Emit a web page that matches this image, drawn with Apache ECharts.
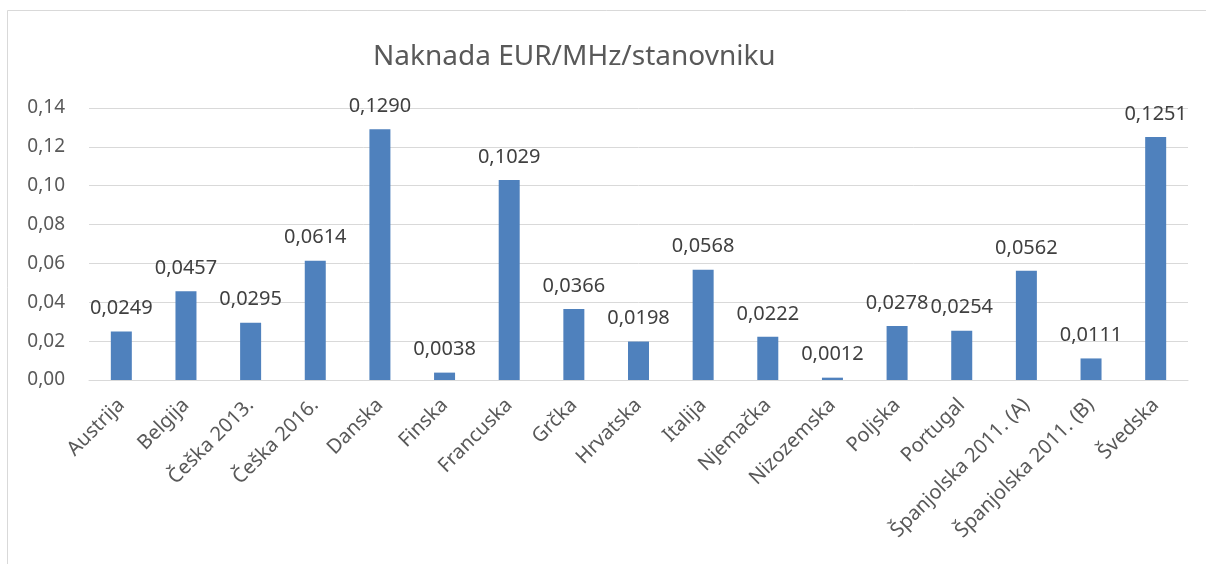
<!DOCTYPE html>
<html>
<head>
<meta charset="utf-8">
<script src="https://cdn.jsdelivr.net/npm/echarts@6/dist/echarts.min.js"></script>
<style>
  html, body { margin: 0; padding: 0; background: #fff; }
  #chart { width: 1206px; height: 564px; }
</style>
</head>
<body>
<div id="chart"></div>
<script>
const categories = [
  'Austrija', 'Belgija', 'Češka 2013.', 'Češka 2016.', 'Danska', 'Finska',
  'Francuska', 'Grčka', 'Hrvatska', 'Italija', 'Njemačka', 'Nizozemska',
  'Poljska', 'Portugal', 'Španjolska 2011. (A)', 'Španjolska 2011. (B)', 'Švedska'
];
const values = [
  0.0249, 0.0457, 0.0295, 0.0614, 0.1290, 0.0038,
  0.1029, 0.0366, 0.0198, 0.0568, 0.0222, 0.0012,
  0.0278, 0.0254, 0.0562, 0.0111, 0.1251
];
const titleText = 'Naknada EUR/MHz/stanovniku';

const fmt = (v, d) => v.toFixed(d).replace('.', ',');
const font = '"Noto Sans", sans-serif';

const chart = echarts.init(document.getElementById('chart'));
chart.setOption({
  backgroundColor: '#fff',
  animation: false,
  textStyle: { fontFamily: font },
  title: {
    text: titleText,
    left: 368,
    top: 38,
    textStyle: { fontFamily: font, fontSize: 28, fontWeight: 'normal', color: '#595959' }
  },
  graphic: [
    {
      type: 'polyline',
      shape: { points: [[7.5, 564], [7.5, 10.5], [1206, 10.5]] },
      style: { stroke: '#d9d9d9', lineWidth: 1, fill: null },
      silent: true
    }
  ],
  grid: { left: 89, right: 18, top: 108, bottom: 184, containLabel: false },
  xAxis: {
    type: 'category',
    data: categories,
    axisLine: { lineStyle: { color: '#d9d9d9', width: 1 } },
    axisTick: { show: false },
    axisLabel: {
      interval: 0,
      rotate: 45,
      margin: 22,
      color: '#595959',
      fontSize: 20,
      fontFamily: font
    }
  },
  yAxis: {
    type: 'value',
    min: 0,
    max: 0.14,
    interval: 0.02,
    axisLine: { show: false },
    axisTick: { show: false },
    splitLine: { lineStyle: { color: '#d9d9d9', width: 1 } },
    axisLabel: {
      margin: 24,
      color: '#595959',
      fontSize: 19,
      fontFamily: font,
      formatter: v => fmt(v, 2)
    }
  },
  series: [
    {
      type: 'bar',
      data: values,
      barWidth: 21,
      itemStyle: { color: '#4f81bd' },
      label: {
        show: true,
        position: 'top',
        distance: 13,
        color: '#404040',
        fontSize: 20,
        fontFamily: font,
        formatter: p => fmt(p.value, 4)
      }
    }
  ]
});
</script>
</body>
</html>
